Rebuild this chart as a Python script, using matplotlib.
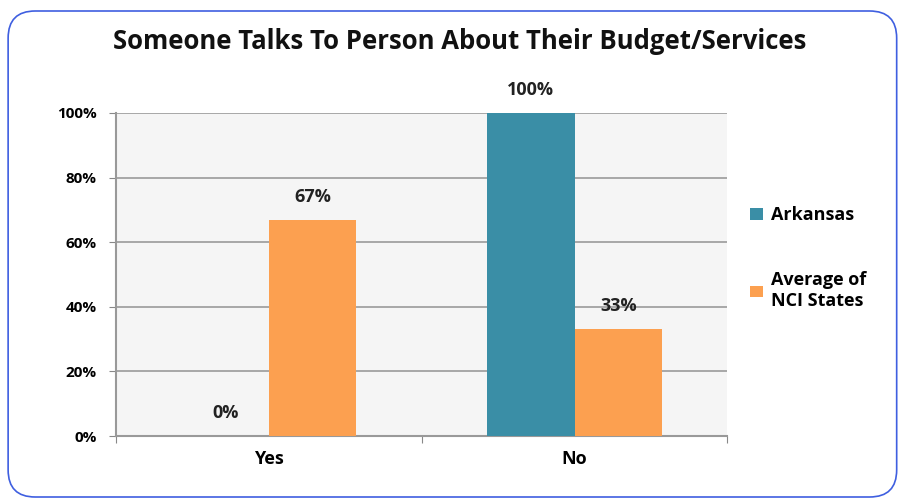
import numpy as np
import matplotlib.pyplot as plt
from matplotlib.patches import FancyBboxPatch

plt.rcParams['font.family'] = ['Open Sans', 'DejaVu Sans']

categories = ['Yes', 'No']
arkansas = [0, 100]
nci_avg = [67, 33]
series_names = ['Arkansas', 'Average of\nNCI States']
colors = ['#3a8ea6', '#fca050']

fig = plt.figure(figsize=(9.03, 5.0), dpi=100)

# rounded blue frame around the whole chart
frame = FancyBboxPatch((0.009, 0.006), 0.984, 0.972, boxstyle="round,pad=0,rounding_size=0.03",
                       transform=fig.transFigure, facecolor='none', edgecolor='#3f5fe0',
                       linewidth=1.2, mutation_aspect=903 / 500, zorder=-1)
fig.patches.append(frame)

ax = fig.add_axes([0.1285, 0.128, 0.677, 0.646])
ax.set_facecolor('#f5f5f5')

x = np.arange(len(categories))
w = 0.286
b1 = ax.bar(x - w / 2, arkansas, w, color=colors[0], label=series_names[0], zorder=3)
b2 = ax.bar(x + w / 2, nci_avg, w, color=colors[1], label=series_names[1], zorder=3)

for bars in (b1, b2):
    for r in bars:
        h = r.get_height()
        ax.annotate('%d%%' % h, (r.get_x() + r.get_width() / 2, h), xytext=(0, 16.5),
                    textcoords='offset points', ha='center', va='center',
                    fontsize=13, fontweight='bold', color='#222222')

ax.set_xlim(-0.5, 1.5)
ax.set_ylim(0, 100)
ax.set_yticks(range(0, 101, 20))
ax.set_yticklabels(['%d%%' % v for v in range(0, 101, 20)], fontsize=11, fontweight='bold')
ax.yaxis.grid(True, color='#9a9a9a', linewidth=1.2, zorder=0)
ax.set_axisbelow(True)

ax.set_xticks([-0.5, 0.5, 1.5])
ax.set_xticklabels([])
ax.set_xticks(x, minor=True)
ax.set_xticklabels(categories, minor=True, fontsize=13, fontweight='bold')
ax.tick_params(axis='x', which='minor', length=0, pad=10)
ax.tick_params(axis='x', which='major', length=5, color='#888888')
ax.tick_params(axis='y', length=5, color='#888888', pad=9)

for s in ['top', 'right']:
    ax.spines[s].set_visible(False)
for s in ['left', 'bottom']:
    ax.spines[s].set_color('#999999')
    ax.spines[s].set_linewidth(1.5)

fig.text(0.509, 0.917, 'Someone Talks To Person About Their Budget/Services',
         ha='center', va='center', fontsize=18.5, fontweight='bold', color='#111111')

leg = ax.legend(loc='center left', bbox_to_anchor=(1.01, 0.55), frameon=False,
                prop={'size': 13, 'weight': 'bold'}, handlelength=0.75, handleheight=0.6,
                handletextpad=0.45, labelspacing=2.6)

fig.savefig('out.png', dpi=100)
